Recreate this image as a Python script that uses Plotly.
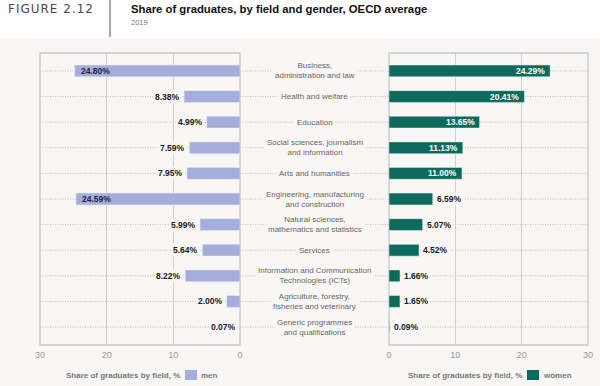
import plotly.graph_objects as go

fields = [
    "Business,<br>administration and law",
    "Health and welfare",
    "Education",
    "Social sciences, journalism<br>and information",
    "Arts and humanities",
    "Engineering, manufacturing<br>and construction",
    "Natural sciences,<br>mathematics and statistics",
    "Services",
    "Information and Communication<br>Technologies (ICTs)",
    "Agriculture, forestry,<br>fisheries and veterinary",
    "Generic programmes<br>and qualifications",
]
men = [24.80, 8.38, 4.99, 7.59, 7.95, 24.59, 5.99, 5.64, 8.22, 2.00, 0.07]
women = [24.29, 20.41, 13.65, 11.13, 11.00, 6.59, 5.07, 4.52, 1.66, 1.65, 0.09]
ticks = [0, 10, 20, 30]
legend_title = "Share of graduates by field, %"

PANEL = "#f8f7f5"
MEN_C = "#a4addb"
WOMEN_C = "#0d6b5d"
FONT = "Liberation Sans, Arial, sans-serif"
W, H = 600, 386

def px(xp):
    return xp / W

def py(yp):
    return 1 - yp / H

fig = go.Figure()
fig.add_trace(go.Bar(
    y=fields, x=men, orientation="h", name="men", marker_color=MEN_C,
    width=0.46, xaxis="x", yaxis="y", hoverinfo="skip", showlegend=False,
))
fig.add_trace(go.Bar(
    y=fields, x=women, orientation="h", name="women", marker_color=WOMEN_C,
    width=0.46, xaxis="x2", yaxis="y", hoverinfo="skip", showlegend=False,
))

shapes = []
annotations = []

# white header band
shapes.append(dict(type="rect", xref="paper", yref="paper", x0=0, x1=1,
                   y0=py(38), y1=1, fillcolor="white", line_width=0, layer="below"))
# divider in header
shapes.append(dict(type="line", xref="paper", yref="paper", x0=px(110), x1=px(110),
                   y0=py(37), y1=1, line=dict(color="#555", width=1)))

# dotted row guides
for f in fields:
    shapes.append(dict(type="line", xref="paper", yref="y", x0=px(40), x1=px(588),
                       y0=f, y1=f, line=dict(color="#bdbdbd", width=1, dash="1px,1.5px"),
                       layer="below"))

# panel boxes
for ax in ["x", "x2"]:
    shapes.append(dict(type="rect", xref=f"{ax} domain", yref="y domain",
                       x0=0, x1=1, y0=0, y1=1, line=dict(color="#c9c9c9", width=1.3),
                       layer="below"))

# center labels
for f in fields:
    annotations.append(dict(xref="paper", yref="y", x=px(314.5), y=f, text=f,
                            showarrow=False, font=dict(family=FONT, size=8, color="#666"),
                            bgcolor=PANEL, borderpad=2, align="center"))

# value labels
for f, v in zip(fields, men):
    t = f"{v:.2f}%"
    if v > 20:
        annotations.append(dict(xref="x", yref="y", x=v, y=f, text=t, showarrow=False,
                                xanchor="left", xshift=4,
                                font=dict(family=FONT, size=8.5, color="#1e2240", weight="bold")))
    else:
        annotations.append(dict(xref="x", yref="y", x=v, y=f, text=t, showarrow=False,
                                xanchor="right", xshift=-2, bgcolor=PANEL, borderpad=1,
                                font=dict(family=FONT, size=8.5, color="#1a1a1a", weight="bold")))
for f, v in zip(fields, women):
    t = f"{v:.2f}%"
    if v > 10:
        annotations.append(dict(xref="x2", yref="y", x=v, y=f, text=t, showarrow=False,
                                xanchor="right", xshift=-3,
                                font=dict(family=FONT, size=8.5, color="white", weight="bold")))
    else:
        annotations.append(dict(xref="x2", yref="y", x=v, y=f, text=t, showarrow=False,
                                xanchor="left", xshift=2, bgcolor=PANEL, borderpad=1,
                                font=dict(family=FONT, size=8.5, color="#1a1a1a", weight="bold")))

# header text
annotations.append(dict(xref="paper", yref="paper", x=px(6), y=py(9),
                        text='<span style="letter-spacing:1px">FIGURE 2.12</span>',
                        showarrow=False, xanchor="left", yanchor="middle",
                        font=dict(family="DejaVu Sans, sans-serif", size=12, color="#4a4a4a")))
annotations.append(dict(xref="paper", yref="paper", x=px(129), y=py(9),
                        text="Share of graduates, by field and gender, OECD average",
                        showarrow=False, xanchor="left", yanchor="middle",
                        font=dict(family=FONT, size=11.3, color="#111", weight="bold")))
annotations.append(dict(xref="paper", yref="paper", x=px(129), y=py(23), text="2019",
                        showarrow=False, xanchor="left", yanchor="middle",
                        font=dict(family=FONT, size=7.5, color="#777")))

# legends (text + swatch + name)
for name, color, tx, sw in [("men", MEN_C, 182, 185), ("women", WOMEN_C, 524, 527)]:
    annotations.append(dict(xref="paper", yref="paper", x=px(tx), y=py(375), text=legend_title,
                            showarrow=False, xanchor="right", yanchor="middle",
                            font=dict(family=FONT, size=8, color="#777", weight="bold")))
    shapes.append(dict(type="rect", xref="paper", yref="paper", x0=px(sw), x1=px(sw + 12),
                       y0=py(380), y1=py(370), fillcolor=color, line_width=0))
    annotations.append(dict(xref="paper", yref="paper", x=px(sw + 14), y=py(375), text=name,
                            showarrow=False, xanchor="left", yanchor="middle",
                            font=dict(family=FONT, size=8, color="#777", weight="bold")))

axis_common = dict(
    tickvals=ticks, showgrid=True, gridcolor="#cfcfcf", gridwidth=1.3,
    zeroline=False, showline=False, ticks="", ticklabelstandoff=3,
    tickfont=dict(family=FONT, size=9, color="#999"), anchor="y", fixedrange=True,
)

fig.update_layout(
    width=W, height=H, margin=dict(l=0, r=0, t=0, b=0, autoexpand=False),
    paper_bgcolor=PANEL, plot_bgcolor="rgba(0,0,0,0)",
    xaxis=dict(domain=[px(40), px(240)], range=[30, 0], **axis_common),
    xaxis2=dict(domain=[px(389), px(588)], range=[0, 30], **axis_common),
    yaxis=dict(domain=[py(345), py(53)], range=[10.7, -0.7], showticklabels=False,
               showgrid=False, zeroline=False, anchor="x", fixedrange=True,
               categoryorder="array", categoryarray=fields),
    shapes=shapes, annotations=annotations,
    showlegend=False,
)

fig.write_html(
    "out.html",
    config={"displayModeBar": False},
    post_script="document.body.style.margin='0';document.body.style.overflow='hidden';",
)
